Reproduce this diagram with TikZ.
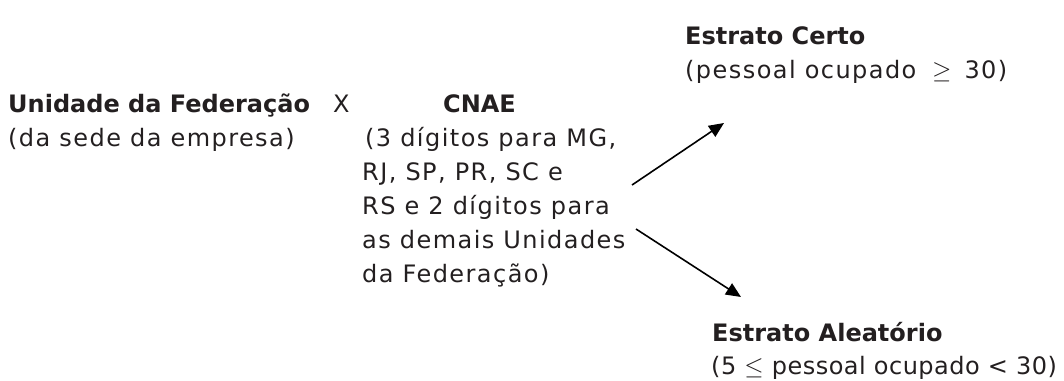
\documentclass[tikz,border=0pt]{standalone}
\usepackage{fontspec}
\setmainfont{DejaVu Sans}[LetterSpace=6]
\newfontfamily\boldfam{DejaVu Sans}[LetterSpace=0]
\newfontfamily\tightfam{DejaVu Sans}[LetterSpace=2]
\usetikzlibrary{arrows.meta}
\definecolor{ink}{HTML}{231F20}
\tikzset{
  txt/.style={anchor=base west, inner sep=0pt, text=ink, font=\fontsize{24}{30}\selectfont},
  ttxt/.style={txt, font=\fontsize{24}{30}\selectfont\tightfam},
  btxt/.style={anchor=base west, inner sep=0pt, text=ink, font=\fontsize{24}{30}\selectfont\boldfam\bfseries},
  arr/.style={line width=1.6pt, -{Triangle[length=15pt,width=13pt]}, black}
}
\begin{document}
\begin{tikzpicture}[x=1pt,y=-1pt]
\useasboundingbox (0,0) rectangle (1064,380);
% left block
\node[btxt] (uf) at (8,112) {Unidade da Federação};
\node[txt] (x) at (333,112) {X};
\node[txt] (uf2) at (8,146) {(da sede da empresa)};
% CNAE block
\node[btxt] (cnae) at (443,112) {CNAE};
\node[txt] (c1) at (365,146) {(3 dígitos para MG,};
\node[txt] (c2) at (362,180) {RJ, SP, PR, SC e};
\node[txt] (c3) at (362,214) {RS e 2 dígitos para};
\node[txt] (c4) at (362,248) {as demais Unidades};
\node[txt] (c5) at (362,282) {da Federação)};
% right blocks
\node[btxt] (ec) at (685,44) {Estrato Certo};
\node[txt] (ec2) at (685,78) {(pessoal ocupado \;$\geq$\, 30)};
\node[btxt] (ea) at (712,341) {Estrato Aleatório};
\node[ttxt] (ea2) at (711,374) {(5 $\leq$ pessoal ocupado < 30)};
% arrows
\coordinate (s1) at (632,185);
\coordinate (t1) at (724,123);
\coordinate (s2) at (636,229);
\coordinate (t2) at (741,297);
\draw[arr] (s1) -- (t1);
\draw[arr] (s2) -- (t2);
\end{tikzpicture}
\end{document}
